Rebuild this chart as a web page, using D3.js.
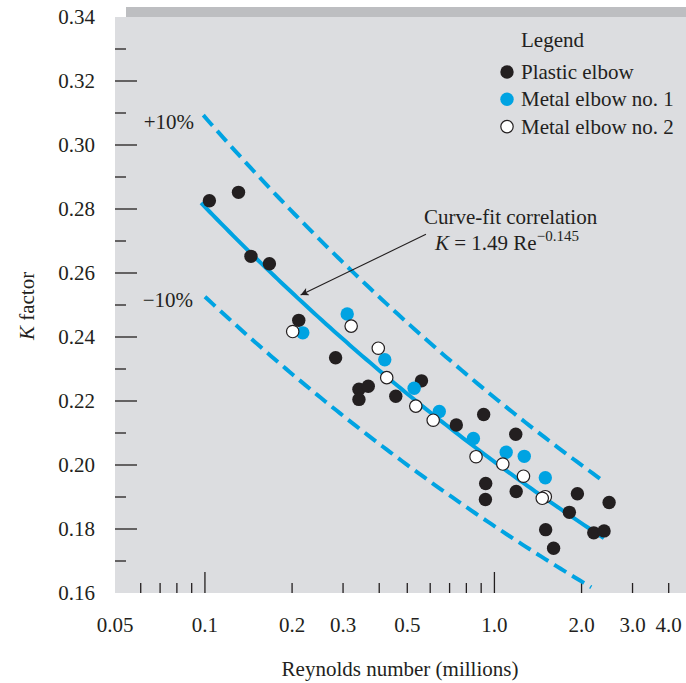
<!DOCTYPE html>
<html>
<head>
<meta charset="utf-8">
<script src="https://cdn.jsdelivr.net/npm/d3@7/dist/d3.min.js"></script>
<style>
  html, body { margin: 0; padding: 0; background: #ffffff; }
  svg { display: block; }
  text { font-family: "Liberation Serif", "Times New Roman", serif; fill: #231f20; }
</style>
</head>
<body>
<div id="chart"></div>
<script>
// ---------------- data (Re in millions, K factor) ----------------
const plasticRe = [0.1036, 0.1306, 0.1442, 0.1670, 0.2109, 0.2827, 0.3404, 0.3666, 0.3404, 0.4563, 0.5598, 0.7385, 0.918, 1.185, 0.933, 0.931, 1.189, 1.935, 1.815, 1.503, 1.601, 2.490, 2.204, 2.392];
const plasticK  = [0.2826, 0.2852, 0.2652, 0.2629, 0.2452, 0.2335, 0.2237, 0.2246, 0.2205, 0.2215, 0.2263, 0.2125, 0.2158, 0.2096, 0.1942, 0.1892, 0.1917, 0.1910, 0.1852, 0.1798, 0.1740, 0.1883, 0.1788, 0.1794];
const metal1Re  = [0.2178, 0.3101, 0.418, 0.528, 0.645, 0.846, 1.098, 1.268, 1.499];
const metal1K   = [0.2413, 0.2472, 0.2329, 0.2240, 0.2167, 0.2083, 0.2040, 0.2027, 0.1960];
const metal2Re  = [0.201, 0.320, 0.397, 0.4246, 0.535, 0.6145, 0.864, 1.069, 1.26, 1.499, 1.463];
const metal2K   = [0.2417, 0.2434, 0.2365, 0.2273, 0.2184, 0.2140, 0.2026, 0.2003, 0.1965, 0.1901, 0.1896];

// curve fit K = 1.49 Re^-0.145 and +-10% bands
const fitCoef = 1.49, fitExp = -0.145;
const fitRange   = [0.097, 2.39];
const upperRange = [0.0987, 2.33];
const lowerRange = [0.100, 2.16];

const xTickLabels = [0.05, 0.1, 0.2, 0.3, 0.5, 1.0, 2.0, 3.0, 4.0];
const xTickText   = ["0.05", "0.1", "0.2", "0.3", "0.5", "1.0", "2.0", "3.0", "4.0"];
const xMajorTicks = [0.1, 1.0];
const xMinorTicks = [0.06, 0.07, 0.08, 0.09, 0.2, 0.3, 0.4, 0.5, 0.6, 0.7, 0.8, 0.9, 2, 3, 4];
const yTickLabels = [0.16, 0.18, 0.20, 0.22, 0.24, 0.26, 0.28, 0.30, 0.32, 0.34];
const yMajorTicks = [0.18, 0.20, 0.22, 0.24, 0.26, 0.28, 0.30, 0.32];
const yMinorTicks = [0.17, 0.19, 0.21, 0.23, 0.25, 0.27, 0.29, 0.31, 0.33];

const legendItems = ["Plastic elbow", "Metal elbow no. 1", "Metal elbow no. 2"];

// ---------------- layout ----------------
const W = 686, H = 683;
const plot = { left: 115, right: 686, top: 17, bottom: 593 };
const BLUE = "#00a3e2", INK = "#231f20";

const svg = d3.select("#chart").append("svg").attr("width", W).attr("height", H);

const x = d3.scaleLog().domain([0.0489, 4.59]).range([plot.left, plot.right]);
const y = d3.scaleLinear().domain([0.16, 0.34]).range([plot.bottom, plot.top]);

// background
svg.append("rect").attr("x", 126).attr("y", 7).attr("width", W - 126).attr("height", 10).attr("fill", "#bdbec1");
svg.append("rect").attr("x", plot.left).attr("y", plot.top)
  .attr("width", plot.right - plot.left).attr("height", plot.bottom - plot.top).attr("fill", "#dcdde0");

// y ticks
const yt = svg.append("g");
yt.selectAll(".ymaj").data(yMajorTicks).join("line")
  .attr("x1", plot.left).attr("x2", plot.left + 22)
  .attr("y1", d => y(d)).attr("y2", d => y(d)).attr("stroke", INK).attr("stroke-width", 1.3);
yt.selectAll(".ymin").data(yMinorTicks).join("line").attr("class", "ymin")
  .attr("x1", plot.left).attr("x2", plot.left + 11)
  .attr("y1", d => y(d)).attr("y2", d => y(d)).attr("stroke", INK).attr("stroke-width", 1.3);
yt.selectAll("text").data(yTickLabels).join("text")
  .attr("x", 95).attr("y", d => y(d)).attr("dy", "0.35em")
  .attr("text-anchor", "end").attr("font-size", 21).text(d => d.toFixed(2));

// x ticks
const xt = svg.append("g");
xt.selectAll(".xmaj").data(xMajorTicks).join("line").attr("class", "xmaj")
  .attr("x1", d => x(d)).attr("x2", d => x(d))
  .attr("y1", plot.bottom).attr("y2", plot.bottom - 21).attr("stroke", INK).attr("stroke-width", 1.3);
xt.selectAll(".xmin").data(xMinorTicks).join("line").attr("class", "xmin")
  .attr("x1", d => x(d)).attr("x2", d => x(d))
  .attr("y1", plot.bottom).attr("y2", plot.bottom - 10).attr("stroke", INK).attr("stroke-width", 1.3);
xt.selectAll("text").data(xTickLabels).join("text")
  .attr("x", (d, i) => i === 0 ? plot.left : x(d)).attr("y", 632)
  .attr("text-anchor", "middle").attr("font-size", 21).text((d, i) => xTickText[i]);

// axis titles
svg.append("text").attr("x", 400).attr("y", 676).attr("text-anchor", "middle")
  .attr("font-size", 21).text("Reynolds number (millions)");
const yl = svg.append("text").attr("transform", "translate(34,306) rotate(-90)")
  .attr("text-anchor", "middle").attr("font-size", 21);
yl.append("tspan").attr("font-style", "italic").text("K");
yl.append("tspan").text(" factor");

// curves
const fitK = re => fitCoef * Math.pow(re * 1e6, fitExp);
function sample(range, factor) {
  return d3.range(0, 101).map(i => {
    const re = Math.exp(Math.log(range[0]) + (Math.log(range[1]) - Math.log(range[0])) * i / 100);
    return [re, factor * fitK(re)];
  });
}
const line = d3.line().x(d => x(d[0])).y(d => y(d[1]));
svg.append("path").attr("d", line(sample(fitRange, 1.0))).attr("fill", "none")
  .attr("stroke", BLUE).attr("stroke-width", 4);
svg.append("path").attr("d", line(sample(upperRange, 1.1))).attr("fill", "none")
  .attr("stroke", BLUE).attr("stroke-width", 4).attr("stroke-dasharray", "14,7");
svg.append("path").attr("d", line(sample(lowerRange, 0.9))).attr("fill", "none")
  .attr("stroke", BLUE).attr("stroke-width", 4).attr("stroke-dasharray", "14,7");

// band labels
svg.append("text").attr("x", 194).attr("y", 122).attr("dy", "0.35em").attr("text-anchor", "end")
  .attr("font-size", 21).text("+10%");
svg.append("text").attr("x", 193).attr("y", 300).attr("dy", "0.35em").attr("text-anchor", "end")
  .attr("font-size", 21).text("\u221210%");

// annotation
const defs = svg.append("defs");
defs.append("marker").attr("id", "arrow").attr("viewBox", "0 0 10 10").attr("refX", 10).attr("refY", 5)
  .attr("markerWidth", 12).attr("markerHeight", 8).attr("markerUnits", "userSpaceOnUse").attr("orient", "auto")
  .append("path").attr("d", "M0,0 L10,5 L0,10 L2.5,5 Z").attr("fill", INK);
svg.append("line").attr("x1", x(0.58)).attr("y1", y(0.2721)).attr("x2", x(0.2141)).attr("y2", y(0.2531))
  .attr("stroke", INK).attr("stroke-width", 1.1).attr("marker-end", "url(#arrow)");
svg.append("text").attr("x", 424).attr("y", 224).attr("font-size", 21).text("Curve-fit correlation");
const eq = svg.append("text").attr("x", 435).attr("y", 250).attr("font-size", 21);
eq.append("tspan").attr("font-style", "italic").text("K");
eq.append("tspan").text(" = 1.49 Re");
eq.append("tspan").attr("font-size", 15).attr("dy", -9).text("\u22120.145");

// points
const pts = svg.append("g");
const plastic = plasticRe.map((r, i) => [r, plasticK[i]]);
const metal1 = metal1Re.map((r, i) => [r, metal1K[i]]);
const metal2 = metal2Re.map((r, i) => [r, metal2K[i]]);
pts.selectAll(".p").data(plastic).join("circle").attr("class", "p")
  .attr("cx", d => x(d[0])).attr("cy", d => y(d[1])).attr("r", 6.7).attr("fill", INK);
pts.selectAll(".m1").data(metal1).join("circle").attr("class", "m1")
  .attr("cx", d => x(d[0])).attr("cy", d => y(d[1])).attr("r", 6.7).attr("fill", BLUE);
pts.selectAll(".m2").data(metal2).join("circle").attr("class", "m2")
  .attr("cx", d => x(d[0])).attr("cy", d => y(d[1])).attr("r", 6.2).attr("fill", "#ffffff")
  .attr("stroke", INK).attr("stroke-width", 1.2);

// legend
const lg = svg.append("g");
lg.append("text").attr("x", 521).attr("y", 47).attr("font-size", 21).text("Legend");
const lgFill = [INK, BLUE, "#ffffff"];
legendItems.forEach((t, i) => {
  const cy = 72 + i * 27.3;
  lg.append("circle").attr("cx", 507).attr("cy", cy).attr("r", i === 2 ? 6.2 : 6.7)
    .attr("fill", lgFill[i]).attr("stroke", i === 2 ? INK : "none").attr("stroke-width", 1.2);
  lg.append("text").attr("x", 521).attr("y", cy).attr("dy", "0.33em").attr("font-size", 21).text(t);
});
</script>
</body>
</html>
